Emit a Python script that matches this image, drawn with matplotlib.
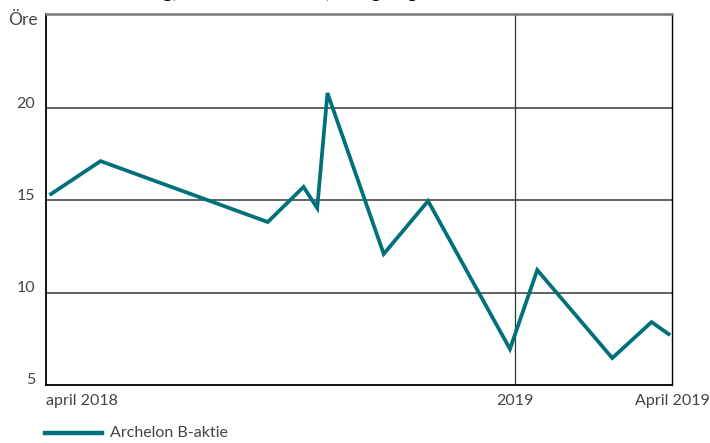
import matplotlib
matplotlib.use("Agg")
import matplotlib.pyplot as plt
import numpy as np
import pandas as pd

dates = ["2018-04-04", "2018-05-03", "2018-08-09", "2018-08-30", "2018-09-07",
         "2018-09-13", "2018-10-16", "2018-11-11", "2018-12-29", "2019-01-14",
         "2019-02-27", "2019-03-22", "2019-04-01"]
prices = [15.35, 17.13, 13.83, 15.73, 14.59, 20.82, 12.10, 14.97, 6.95, 11.23,
          6.46, 8.41, 7.76]
series_name = "Archelon B-aktie"
title = "Kursutveckling, Archelon B-aktie, stängningskurs"
y_ticks = [5, 10, 15, 20]
y_unit = "Öre"
x_tick_dates = ["2018-04-01", "2019-01-01", "2019-04-03"]
x_tick_labels = ["april 2018", "2019", "April 2019"]

plt.rcParams['font.family'] = ['Lato', 'DejaVu Sans']

teal = "#00707a"
txt = "#444444"

fig = plt.figure(figsize=(7.10, 4.43), dpi=100)
W, H = 710, 443
left, right, top, bottom = 46, 672, 14, 385
ax = fig.add_axes([left / W, 1 - bottom / H, (right - left) / W, (bottom - top) / H])

x = pd.to_datetime(dates)
ax.plot(x, prices, color=teal, lw=2.7, solid_joinstyle='miter', zorder=3)

x0 = pd.Timestamp(x_tick_dates[0])
x1 = pd.Timestamp(x_tick_dates[-1])
ax.set_xlim(x0, x1)
ax.set_ylim(5, 25.1)

for v in y_ticks[1:]:
    ax.axhline(v, color="#555555", lw=1.3, zorder=1)
ax.axvline(pd.Timestamp(x_tick_dates[1]), color="#333333", lw=0.9, zorder=1)

for s in ['left', 'bottom']:
    ax.spines[s].set_color('black')
    ax.spines[s].set_linewidth(1.3)
ax.spines['right'].set_color('black')
ax.spines['right'].set_linewidth(1.0)
ax.spines['top'].set_color('#777777')
ax.spines['top'].set_linewidth(1.8)

ax.set_xticks([])
ax.set_yticks([])

# y tick labels
for v in y_ticks:
    ax.text(-0.017, v + 0.25, str(v), transform=ax.get_yaxis_transform(),
            ha='right', va='center', fontsize=11.5, color=txt)
ax.text(-0.013, 24.8, y_unit, transform=ax.get_yaxis_transform(),
        ha='right', va='center', fontsize=12.5, color=txt)

# x tick labels
aligns = ['left', 'center', 'center']
for d, lab, a in zip(x_tick_dates, x_tick_labels, aligns):
    ax.text(pd.Timestamp(d), -0.025, lab, transform=ax.get_xaxis_transform(),
            ha=a, va='top', fontsize=11.5, color=txt)

# legend
fig.add_artist(plt.Line2D([45 / W, 102 / W], [1 - 433 / H, 1 - 433 / H],
                          color=teal, lw=3.2, transform=fig.transFigure))
fig.text(110 / W, 1 - 433 / H, series_name, ha='left', va='center',
         fontsize=11.5, color=txt)

# cropped title (only its lower edge is visible, as in the reference)
fig.text(45 / W, 1 + 2 / H, title, ha='left', va='baseline', fontsize=13.8,
         fontweight='bold', color='black')

fig.savefig("out.png", dpi=100)
